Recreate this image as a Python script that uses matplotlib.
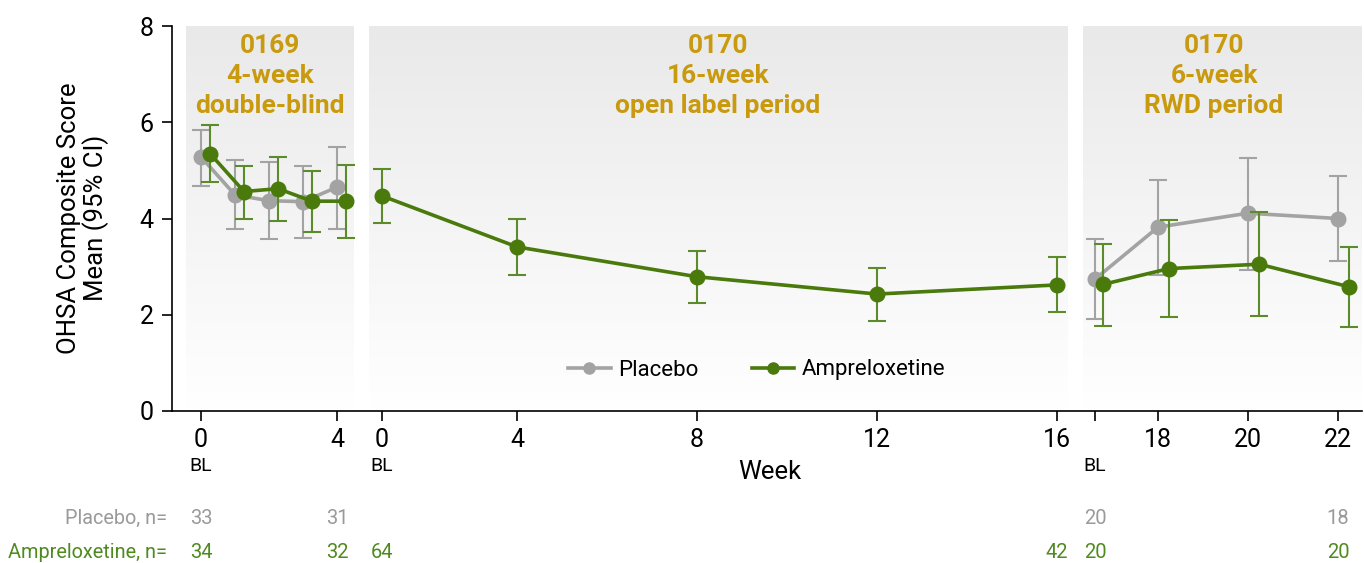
import numpy as np
import matplotlib
matplotlib.use("Agg")
import matplotlib.pyplot as plt
from matplotlib.transforms import blended_transform_factory
from matplotlib.lines import Line2D

# ---------------- data ----------------
weeks_0169 = [0, 1, 2, 3, 4]
pbo_0169 = [5.28, 4.49, 4.37, 4.35, 4.65]
pbo_0169_lo = [4.68, 3.78, 3.57, 3.60, 3.78]
pbo_0169_hi = [5.84, 5.22, 5.17, 5.10, 5.49]
amp_0169 = [5.35, 4.56, 4.62, 4.36, 4.36]
amp_0169_lo = [4.75, 3.98, 3.95, 3.71, 3.59]
amp_0169_hi = [5.95, 5.10, 5.28, 4.98, 5.12]

weeks_ol = [0, 4, 8, 12, 16]
amp_ol = [4.47, 3.41, 2.79, 2.43, 2.62]
amp_ol_lo = [3.91, 2.83, 2.25, 1.88, 2.06]
amp_ol_hi = [5.02, 4.00, 3.33, 2.98, 3.20]

weeks_rwd = [16, 18, 20, 22]
pbo_rwd = [2.74, 3.82, 4.11, 4.00]
pbo_rwd_lo = [1.91, 2.83, 2.94, 3.12]
pbo_rwd_hi = [3.57, 4.80, 5.25, 4.89]
amp_rwd = [2.63, 2.96, 3.05, 2.58]
amp_rwd_lo = [1.77, 1.95, 1.97, 1.74]
amp_rwd_hi = [3.48, 3.96, 4.14, 3.41]

ticks_0169 = [0, 4]
ticklabels_0169 = ["0", "4"]
ticks_ol = [0, 4, 8, 12, 16]
ticklabels_ol = ["0", "4", "8", "12", "16"]
ticks_rwd = [16, 18, 20, 22]
ticklabels_rwd = ["", "18", "20", "22"]

titles = ["0169\n4-week\ndouble-blind", "0170\n16-week\nopen label period", "0170\n6-week\nRWD period"]

n_pbo_0169 = {0: 33, 4: 31}
n_amp_0169 = {0: 34, 4: 32}
n_amp_ol = {0: 64, 16: 42}
n_pbo_rwd = {16: 20, 22: 18}
n_amp_rwd = {16: 20, 22: 20}

# ---------------- style ----------------
plt.rcParams["font.family"] = ["Roboto", "DejaVu Sans"]
GRAY = "#a3a3a3"
GREEN = "#4a7a0c"
GREEN_ERR = "#5b8b2b"
GOLD = "#c99a0e"
NGRAY = "#9a9a9a"
NGREEN = "#4f8a1f"

W, H = 1364, 563
fig = plt.figure(figsize=(W / 100, H / 100), dpi=100)

def fx(px):
    return px / W

def fy(py):
    return 1 - py / H

y_bot, y_top = 411, 26
bottom = fy(y_bot)
height = (y_bot - y_top) / H

# frame axes (spines & y ticks)
frame = fig.add_axes([fx(172), bottom, fx(1362) - fx(172), height])
frame.set_facecolor("none")
frame.set_ylim(0, 8)
frame.set_yticks([0, 2, 4, 6, 8])
frame.set_xticks([])
for s in ["top", "right"]:
    frame.spines[s].set_visible(False)
for s in ["left", "bottom"]:
    frame.spines[s].set_linewidth(1.2)
frame.tick_params(axis="y", labelsize=18, length=7, width=1.2, pad=6)
frame.set_zorder(5)

# panel axes
def make_panel(x0, x1):
    ax = fig.add_axes([fx(x0), bottom, fx(x1) - fx(x0), height])
    ax.set_facecolor("none")
    for s in ax.spines.values():
        s.set_visible(False)
    ax.set_ylim(0, 8)
    ax.tick_params(axis="y", left=False, labelleft=False)
    ax.tick_params(axis="x", labelsize=18, length=7, width=1.2, pad=5)
    grad = np.linspace(0.915, 1.0, 256)[:, None]
    img = np.dstack([grad, grad, grad])
    ax.imshow(img, extent=[0, 1, 0, 1], transform=ax.transAxes, aspect="auto",
              zorder=0, interpolation="bilinear")
    return ax

ax1 = make_panel(186, 354)
ax2 = make_panel(369, 1068)
ax3 = make_panel(1083, 1362)

# scales
def f2(w):
    w = np.asarray(w, float)
    return np.where(w < 4, 0.75 * w, w - 1)

def i2(u):
    u = np.asarray(u, float)
    return np.where(u < 3, u / 0.75, u + 1)

def f3(w):
    w = np.asarray(w, float)
    return np.where(w < 18, 18 - (18 - w) * 0.7, w)

def i3(u):
    u = np.asarray(u, float)
    return np.where(u < 18, 18 - (18 - u) / 0.7, u)

ax2.set_xscale("function", functions=(f2, i2))
ax3.set_xscale("function", functions=(f3, i3))

ax1.set_xlim(-15 / 34, 153 / 34)
ax2.set_xlim(-13 / 45 / 0.75, 16.244)
ax3.set_xlim(18 - (75 / 45) / 0.7, 18 + 204 / 45)

def series(ax, x, y, lo, hi, color, ecolor, dodge=0.0, z=3):
    x = np.asarray(x, float) + dodge
    y = np.asarray(y)
    yerr = [y - np.asarray(lo), np.asarray(hi) - y]
    ax.errorbar(x, y, yerr=yerr, fmt="none", ecolor=ecolor, elinewidth=1.5,
                capsize=6.5, capthick=1.5, zorder=z)
    ax.plot(x, y, color=color, lw=2.6, marker="o", markersize=10.5, zorder=z + 0.5)

series(ax1, weeks_0169, pbo_0169, pbo_0169_lo, pbo_0169_hi, GRAY, GRAY)
series(ax1, weeks_0169, amp_0169, amp_0169_lo, amp_0169_hi, GREEN, GREEN_ERR, dodge=0.265, z=4)
series(ax2, weeks_ol, amp_ol, amp_ol_lo, amp_ol_hi, GREEN, GREEN_ERR, z=4)
series(ax3, weeks_rwd, pbo_rwd, pbo_rwd_lo, pbo_rwd_hi, GRAY, GRAY)
series(ax3, weeks_rwd, amp_rwd, amp_rwd_lo, amp_rwd_hi, GREEN, GREEN_ERR, dodge=0.25, z=4)

ax1.set_xticks(ticks_0169, ticklabels_0169)
ax2.set_xticks(ticks_ol, ticklabels_ol)
ax3.set_xticks(ticks_rwd, ticklabels_rwd)

# titles
centers = [270, 718, 1214]
for c, t in zip(centers, titles):
    fig.text(fx(c), fy(76), t, ha="center", va="center", color=GOLD,
             fontsize=19, fontweight="bold", linespacing=1.33)

# BL labels
for ax, w in [(ax1, 0), (ax2, 0), (ax3, 16)]:
    tr = blended_transform_factory(ax.transData, fig.transFigure)
    ax.text(w, fy(466), "BL", transform=tr, ha="center", va="center", fontsize=14)

# n rows
fig.text(fx(167), fy(518), "Placebo, n=", ha="right", va="center", color=NGRAY, fontsize=14.3)
fig.text(fx(167), fy(552), "Ampreloxetine, n=", ha="right", va="center", color=NGREEN, fontsize=14.3)
for ax, d, row, col in [(ax1, n_pbo_0169, 518, NGRAY), (ax1, n_amp_0169, 552, NGREEN),
                        (ax2, n_amp_ol, 552, NGREEN), (ax3, n_pbo_rwd, 518, NGRAY),
                        (ax3, n_amp_rwd, 552, NGREEN)]:
    tr = blended_transform_factory(ax.transData, fig.transFigure)
    for w, n in d.items():
        ax.text(w, fy(row), str(n), transform=tr, ha="center", va="center",
                color=col, fontsize=14.5)

# axis labels
fig.text(fx(770), fy(472), "Week", ha="center", va="center", fontsize=18.5)
fig.text(fx(83), fy(218), "OHSA Composite Score\nMean (95% CI)", ha="center", va="center",
         rotation=90, fontsize=18.5, linespacing=1.05)

# legend
handles = [Line2D([], [], color=GRAY, lw=2.6, marker="o", markersize=8),
           Line2D([], [], color=GREEN, lw=2.6, marker="o", markersize=8)]
fig.legend(handles, ["Placebo", "Ampreloxetine"], loc="center",
           bbox_to_anchor=(fx(757), fy(370)), ncol=2, frameon=False, fontsize=16,
           handlelength=1.9, handletextpad=0.35, columnspacing=2.4)

fig.savefig("out.png", dpi=100)
